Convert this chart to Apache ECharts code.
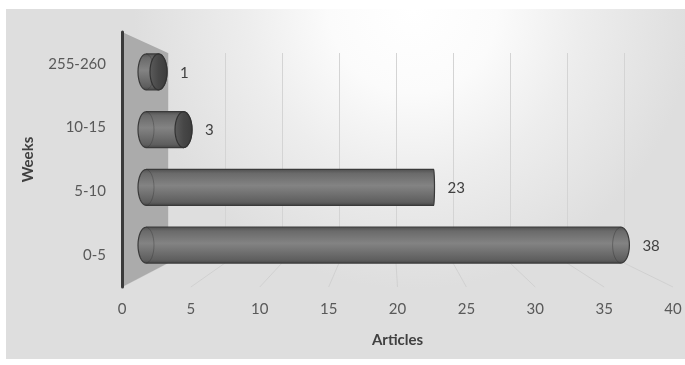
<!doctype html>
<html lang="en">
<head>
<meta charset="UTF-8">
<title>Articles by weeks</title>
<style>
    *{margin:0;padding:0;}
    html,body{width:100%;height:100%;background:#fff;}
    #main{width:685px;height:365px;}
</style>
</head>
<body>
<div id="main"></div>
<script src="https://cdn.jsdelivr.net/npm/echarts@6/dist/echarts.min.js"></script>
<script>
// data, bottom to top
var weeks = ['0-5', '5-10', '10-15', '255-260'];
var articles = [38, 23, 3, 1];
var xTicks = [0, 5, 10, 15, 20, 25, 30, 35, 40];

// three planes of the fake 3d box: front (labels), middle (bars), back (gridlines)
var FRONT = {left: 122, top: 32, width: 551, height: 255};
var MID = {left: 146, top: 43, width: 500, height: 231};
var BACK = {left: 168, top: 53, width: 456, height: 210};
var X_MAX = 40;
var VIEW_X = 436;   // bar ends seen edge on around here
var FONT = 'Lato, "Noto Sans", sans-serif';

var myChart = echarts.init(document.getElementById('main'));

function arcPts(cx, cy, rx, ry, a0, a1, n) {
    var pts = [];
    for (var i = 0; i <= n; i++) {
        var a = a0 + (a1 - a0) * i / n;
        pts.push([cx + rx * Math.cos(a), cy + ry * Math.sin(a)]);
    }
    return pts;
}

function backX(v) {
    return BACK.left + v * BACK.width / X_MAX;
}

function renderWall(params, api) {
    var cs = params.coordSys;
    return {
        type: 'polygon',
        silent: true,
        shape: {points: [
            [cs.x, cs.y], [BACK.left, BACK.top],
            [BACK.left, BACK.top + BACK.height], [cs.x, cs.y + cs.height]
        ]},
        style: {fill: '#ababab'}
    };
}

function renderFloor(params, api) {
    var cs = params.coordSys;
    var v = api.value(0);
    var f = api.coord([v, 0]);
    return {
        type: 'line',
        silent: true,
        shape: {x1: backX(v), y1: BACK.top + BACK.height, x2: f[0], y2: cs.y + cs.height},
        style: {stroke: 'rgba(205,205,205,0.8)', lineWidth: 1}
    };
}

function renderBar(params, api) {
    var v = api.value(0);
    var i = api.value(1);
    var p0 = api.coord([0, i]);
    var p1 = api.coord([v, i]);
    var cy = p0[1];
    var ry = api.size([0, 1])[1] * 0.31;
    var rx0 = 8;
    var rx1 = Math.max(1, Math.min(8.5, Math.abs(p1[0] - VIEW_X) / 22));
    var x0 = p0[0], x1 = p1[0];

    var body = arcPts(x0, cy, rx0, ry, 1.5 * Math.PI, 0.5 * Math.PI, 16)
        .concat(arcPts(x1, cy, rx1, ry, 0.5 * Math.PI, -0.5 * Math.PI, 16));

    var bodyFill = new echarts.graphic.LinearGradient(0, 0, 0, 1, [
        {offset: 0, color: '#4e4e4e'},
        {offset: 0.12, color: '#6a6a6a'},
        {offset: 0.45, color: '#838383'},
        {offset: 0.6, color: '#777777'},
        {offset: 0.9, color: '#5e5e5e'},
        {offset: 1, color: '#454545'}
    ]);

    var children = [
        {
            type: 'polygon',
            shape: {points: body},
            style: {fill: bodyFill, stroke: '#3a3a3a', lineWidth: 1.2}
        },
        {
            type: 'polyline',
            shape: {points: arcPts(x0, cy, rx0, ry, -0.5 * Math.PI, 0.5 * Math.PI, 16)},
            style: {stroke: 'rgba(50,50,50,0.35)', fill: null, lineWidth: 1}
        }
    ];

    if (x1 < VIEW_X - 20) {
        children.push({
            type: 'polygon',
            shape: {points: arcPts(x1, cy, rx1, ry, 0, 2 * Math.PI, 32)},
            style: {
                fill: new echarts.graphic.LinearGradient(0, 0, 1, 0, [
                    {offset: 0, color: '#5c5c5c'},
                    {offset: 0.5, color: '#474747'},
                    {offset: 1, color: '#3c3c3c'}
                ]),
                stroke: '#333', lineWidth: 1.2
            }
        });
    } else if (rx1 > 2) {
        children.push({
            type: 'polyline',
            shape: {points: arcPts(x1, cy, rx1, ry, 1.5 * Math.PI, 0.5 * Math.PI, 16)},
            style: {stroke: 'rgba(50,50,50,0.4)', fill: null, lineWidth: 1}
        });
    }

    children.push({
        type: 'text',
        style: {
            text: String(v),
            x: x1 + rx1 + 13,
            y: cy + 1,
            verticalAlign: 'middle',
            fill: '#404040',
            font: '15px ' + FONT
        }
    });

    return {type: 'group', children: children};
}

var wallData = [[0, 0]];
var floorData = xTicks.map(function (t) { return [t, 0]; });
var barData = articles.map(function (a, i) { return [a, i]; });

myChart.setOption({
    animation: false,
    graphic: [{
        type: 'rect',
        left: 6, top: 9,
        shape: {width: 679, height: 350},
        style: {
            fill: new echarts.graphic.RadialGradient(0.6, 0, 0.8, [
                {offset: 0, color: '#ffffff'},
                {offset: 0.3, color: '#fbfbfb'},
                {offset: 0.6, color: '#ededed'},
                {offset: 1, color: '#dedede'}
            ])
        },
        z: -10,
        silent: true
    }],
    grid: [
        {left: FRONT.left, top: FRONT.top, width: FRONT.width, height: FRONT.height},
        {left: MID.left, top: MID.top, width: MID.width, height: MID.height},
        {left: BACK.left, top: BACK.top, width: BACK.width, height: BACK.height}
    ],
    xAxis: [
        {
            gridIndex: 0, type: 'value', min: 0, max: X_MAX, interval: 5,
            axisLine: {show: false}, axisTick: {show: false}, splitLine: {show: false},
            axisLabel: {color: '#595959', fontSize: 15, fontFamily: FONT, margin: 15},
            name: 'Articles', nameLocation: 'middle', nameGap: 46,
            nameTextStyle: {color: '#404040', fontSize: 15, fontWeight: 'bold', fontFamily: FONT}
        },
        {
            gridIndex: 1, type: 'value', min: 0, max: X_MAX, show: false
        },
        {
            gridIndex: 2, type: 'value', min: 0, max: X_MAX, interval: 5,
            axisLine: {show: false}, axisTick: {show: false}, axisLabel: {show: false},
            splitLine: {show: true, lineStyle: {color: '#d4d4d4', width: 1}}
        }
    ],
    yAxis: [
        {
            gridIndex: 0, type: 'category', data: weeks, z: 5,
            axisLine: {show: true, lineStyle: {color: '#3a3a3a', width: 3}},
            axisTick: {show: false}, splitLine: {show: false},
            axisLabel: {color: '#595959', fontSize: 15, fontFamily: FONT, margin: 16},
            name: 'Weeks', nameLocation: 'middle', nameRotate: 90, nameGap: 86,
            nameTextStyle: {color: '#404040', fontSize: 15, fontWeight: 'bold', fontFamily: FONT}
        },
        {gridIndex: 1, type: 'category', data: weeks, show: false},
        {gridIndex: 2, type: 'value', show: false}
    ],
    series: [
        {
            type: 'custom', xAxisIndex: 0, yAxisIndex: 0, z: 1, silent: true,
            renderItem: renderFloor, data: floorData
        },
        {
            type: 'custom', xAxisIndex: 0, yAxisIndex: 0, z: 2, silent: true,
            renderItem: renderWall, data: wallData
        },
        {
            type: 'custom', name: 'Articles', xAxisIndex: 1, yAxisIndex: 1, z: 3,
            renderItem: renderBar, data: barData
        }
    ]
});
</script>
</body>
</html>
